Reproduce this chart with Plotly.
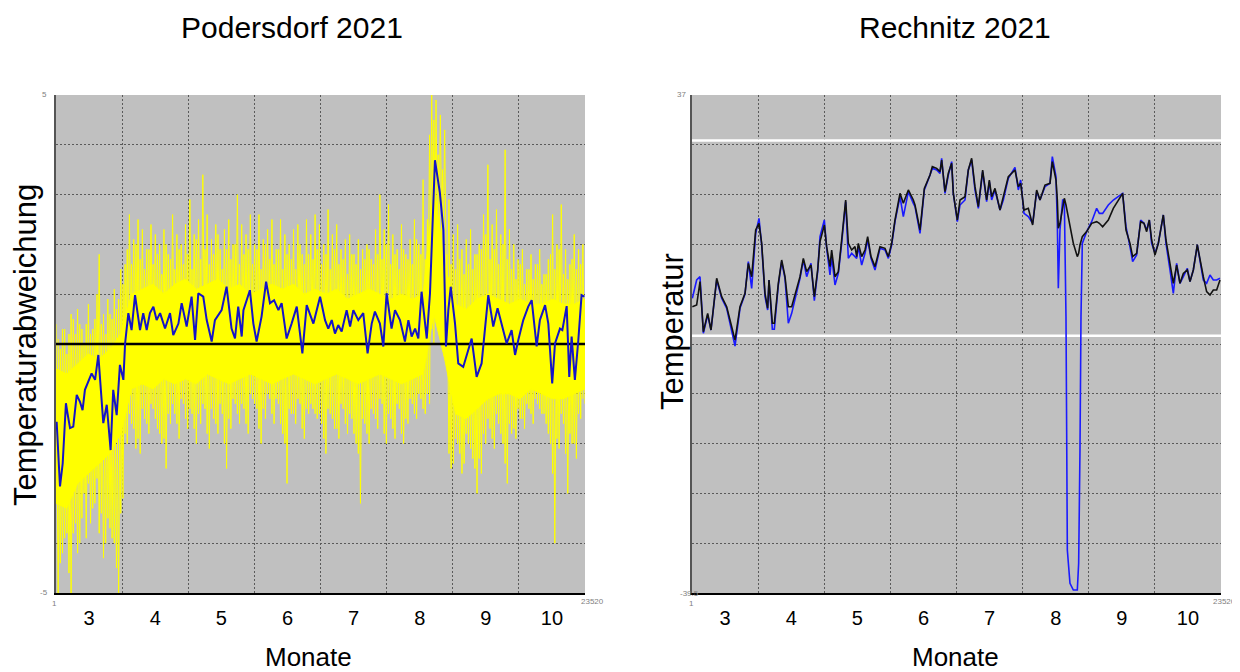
import plotly.graph_objects as go

# ---------------- data ----------------
N_SAMPLES = 23520
SAMPLES_PER_DAY = 96
month_labels = ["3", "4", "5", "6", "7", "8", "9", "10"]

titles = ["Podersdorf 2021", "Rechnitz 2021"]
y_titles = ["Temperaturabweichung", "Temperatur"]
x_title = "Monate"

# Podersdorf: tallest raw deviation spikes (even days 0, 2, ... 244)
pod_raw_hi = [0.4, -0.1, 0.3, 0.2, 0.5, 0.7, 0.3, 0.4, 0.2, 0.5, 1.8, 0.6, 0.9, 0.5, 0.7, 1.5,
              1.6, 2.6, 2.1, 2.5, 2.3, 1.9, 2.4, 2.2, 2.0, 2.3, 1.8, 2.6, 2.2, 2.0, 2.4,
              2.9, 2.2, 2.5, 3.4, 2.6, 2.1, 2.4, 1.9, 2.3, 2.5, 2.0, 3.0, 2.4, 2.2, 2.6,
              2.0, 2.6, 2.1, 2.3, 2.5, 1.9, 2.5, 2.2, 2.0, 2.3, 2.4, 1.8, 2.5, 2.2, 2.6,
              2.4, 2.0, 2.7, 2.2, 2.4, 1.9, 2.1, 2.2, 1.8, 2.1, 1.9, 2.0, 1.7, 2.3, 3.0,
              2.3, 2.8, 2.2, 1.9, 2.4, 1.8, 2.1, 2.5, 2.0, 3.3, 2.5, 5.0, 4.9, 4.6, 4.3,
              2.9, 2.2, 2.4, 1.9, 2.1, 2.3, 1.8, 2.0, 2.6, 3.6, 2.4, 2.7, 2.2, 3.9, 2.3,
              2.0, 1.7, 1.9, 1.5, 1.8, 1.6, 1.9, 1.4, 1.7, 2.6, 2.0, 2.8, 1.9, 1.6, 2.2, 1.9, 2.0]
pod_raw_lo = [-5.0, -4.2, -3.8, -5.0, -3.6, -4.0, -3.0, -2.8, -3.3, -2.7, -3.4, -4.0, -3.7, -4.0, -5.0, -3.1,
              -2.0, -1.6, -2.1, -2.2, -1.5, -1.8, -1.3, -1.7, -2.0, -2.5, -1.6, -1.4, -1.9, -1.2, -1.7,
              -1.4, -2.0, -1.6, -1.3, -2.1, -1.5, -1.8, -1.4, -2.5, -1.7, -1.2, -1.6, -1.3, -1.8, -1.1,
              -1.3, -2.0, -1.5, -1.1, -1.6, -1.2, -1.8, -2.8, -1.4, -1.6, -1.2, -1.9, -1.4, -1.3, -1.5,
              -1.6, -2.2, -1.4, -1.7, -1.9, -1.3, -1.8, -1.5, -2.0, -3.2, -1.6, -2.0, -1.4, -1.7, -1.2,
              -2.0, -1.5, -1.9, -1.3, -2.0, -1.6, -1.2, -1.5, -1.1, -1.4, -1.2, 0.0, 0.6, 0.8, 0.3,
              -2.5, -1.9, -2.2, -2.4, -2.0, -2.3, -3.0, -2.6, -2.0, -1.7, -2.1, -1.6, -2.0, -2.8, -1.8,
              -1.9, -1.5, -1.7, -1.3, -1.6, -1.2, -1.4, -1.6, -2.0, -4.0, -2.1, -1.6, -3.0, -2.0, -2.3, -1.5, -1.2]

# Podersdorf: medium raw deviation spikes (odd days 1, 3, ... 243)
pod_mid_hi = [0.1, 0.3, -0.2, 0.6, 0.2, 0.4, 0.0, 0.8, 0.3, 1.0, 0.4, 0.2, 0.6, 1.1, 0.9,
              1.2, 1.9, 1.6, 2.0, 1.7, 1.5, 1.9, 1.6, 1.8, 1.4, 2.0, 1.7, 1.5, 1.9, 1.6,
              1.8, 1.5, 2.1, 1.7, 1.9, 1.6, 1.8, 2.2, 1.5, 1.9, 1.7, 2.0, 1.6, 1.8, 1.9,
              1.6, 1.9, 1.5, 2.0, 1.7, 1.6, 1.9, 1.5, 1.8, 1.7, 1.5, 2.0, 1.6, 1.8, 1.7,
              1.9, 1.6, 1.8, 1.5, 1.9, 1.6, 1.7, 1.4, 1.8, 1.6, 1.5, 1.7, 1.9, 1.6, 1.8,
              1.7, 2.0, 1.6, 1.8, 1.5, 1.9, 1.7, 1.6, 2.1, 1.8, 1.7, 4.2, 4.5, 3.8, 3.5,
              1.8, 1.6, 1.5, 1.7, 1.4, 1.6, 1.5, 1.8, 1.9, 2.2, 1.7, 1.9, 1.6, 2.0, 1.7,
              1.5, 1.3, 1.6, 1.2, 1.5, 1.3, 1.6, 1.2, 1.4, 1.8, 1.5, 1.9, 1.4, 1.3, 1.7, 1.5, 1.6]
pod_mid_lo = [-4.4, -3.9, -4.6, -3.8, -4.2, -3.5, -3.9, -3.6, -3.2, -3.8, -4.3, -3.5, -3.9, -4.5, -3.4,
              -1.8, -1.4, -1.7, -1.9, -1.3, -1.6, -1.2, -1.5, -1.8, -1.9, -1.4, -1.2, -1.6, -1.1, -1.5,
              -1.3, -1.7, -1.4, -1.2, -1.8, -1.3, -1.6, -1.2, -2.0, -1.5, -1.1, -1.4, -1.2, -1.6, -1.0,
              -1.2, -1.7, -1.3, -1.0, -1.4, -1.1, -1.6, -2.0, -1.3, -1.4, -1.1, -1.7, -1.3, -1.2, -1.4,
              -1.4, -1.9, -1.3, -1.5, -1.7, -1.2, -1.6, -1.4, -1.8, -2.2, -1.5, -1.8, -1.3, -1.5, -1.1,
              -1.8, -1.4, -1.7, -1.2, -1.8, -1.5, -1.1, -1.4, -1.0, -1.3, -1.0, 0.3, 0.8, 1.0, 0.5,
              -2.2, -2.4, -2.0, -2.6, -1.8, -2.1, -2.5, -2.3, -1.8, -1.5, -1.9, -1.4, -1.8, -2.4, -1.6,
              -1.7, -1.3, -1.5, -1.2, -1.4, -1.1, -1.3, -1.4, -1.8, -2.6, -1.9, -1.4, -2.2, -1.8, -2.0, -1.4, -1.1]

# Podersdorf: dense core of the raw deviation (every 5 days starting at day 0)
pod_core_hi = [-0.5, -0.6, -0.4, -0.2, -0.3, -0.1, 0.2, 1.0, 1.1, 1.2, 1.0, 1.2, 1.3, 1.1, 1.2, 1.3,
               1.1, 1.2, 1.0, 1.1, 1.2, 1.1, 1.2, 1.0, 1.1, 1.0, 1.1, 0.9, 1.0, 1.1, 1.0, 0.9,
               1.0, 0.9, 1.0, 3.2, 1.6, 0.8, 0.7, 0.9, 1.0, 0.9, 0.8, 0.9, 0.8, 0.8, 0.9, 0.8,
               0.8, 0.9]
pod_core_lo = [-3.2, -3.3, -2.8, -2.6, -2.4, -2.2, -1.8, -0.9, -0.8, -0.9, -0.7, -0.8, -0.7, -0.8,
               -0.6, -0.7, -0.8, -0.7, -0.6, -0.7, -0.8, -0.7, -0.6, -0.7, -0.8, -0.7, -0.6, -0.7,
               -0.8, -0.7, -0.6, -0.7, -0.8, -0.7, -0.6, 0.6, -0.3, -1.4, -1.5, -1.3, -1.1, -1.0,
               -1.0, -1.1, -0.9, -1.0, -1.1, -1.1, -1.0, -0.9]
pod_core_step_days = 5

# Podersdorf: smoothed deviation (blue)
pod_mean_days = [0.3, 1.85, 3.1, 4.6, 5.2, 6.5, 8.0, 9.6, 11.1, 12.3, 13.4, 16.5, 18.1, 19.6, 21.9, 23.5,
                 25.3, 26.5, 28.1, 29.6, 31.2, 32.0, 33.5, 35.0, 36.6, 38.9, 40.4, 42.0, 43.5, 45.1,
                 46.6, 48.2, 50.5, 52.8, 54.3, 56.7, 58.2, 60.5, 62.8, 64.4, 65.9, 68.2, 69.8, 72.1,
                 73.6, 76.7, 79.0, 81.3, 82.9, 84.4, 86.0, 86.8, 89.8, 91.4, 92.9, 95.2, 97.3, 99.1,
                 101.0, 103.0, 104.5, 106.8, 109.1, 111.5, 114.1, 116.1, 119.2,
                 122.3, 124.6, 126.1, 127.7, 129.2, 130.7, 132.3, 134.6, 136.2, 137.7, 140.0, 142.3,
                 144.3, 146.2, 147.7, 150.0, 151.6, 153.1, 155.4, 157.0, 159.3, 161.6, 163.2, 164.7,
                 166.3, 167.8, 169.3, 171.7, 173.2, 175.5, 177.8, 179.4, 180.6, 181.7, 182.8, 184.8,
                 186.3, 188.6, 191.0, 192.5, 194.8, 197.1, 200.2, 202.5, 204.5, 206.4, 208.7, 211.0,
                 212.6, 214.1, 216.4, 218.7, 220.3, 222.6, 224.1, 226.5, 228.0, 229.8, 231.1, 233.4,
                 234.5, 236.5, 237.7, 238.8, 240.3, 241.9, 243.4, 244.7]
pod_mean_vals = [-1.56, -2.86, -2.40, -1.19, -1.36, -1.69, -1.66, -1.02, -1.16, -1.33, -0.92, -0.59,
                 -0.72, -0.22, -1.59, -1.22, -2.13, -0.92, -1.43, -0.42, -0.72, 0.01, 0.62, 0.28,
                 0.98, 0.28, 0.62, 0.28, 0.62, 0.75, 0.48, 0.62, 0.31, 0.62, 0.18, 0.41, 0.82, 0.35,
                 0.95, 0.08, 1.02, 0.95, 0.48, 0.05, 0.48, 0.68, 1.15, 0.31, 0.11, 0.75, 0.15, 0.68,
                 1.08, 0.41, 0.05, 0.55, 1.25, 0.82, 0.88, 0.68, 0.82, 0.11, 0.41, 0.75, -0.19, 0.78,
                 0.41,
                 0.95, 0.48, 0.31, 0.48, 0.21, 0.38, 0.25, 0.68, 0.35, 0.68, 0.48, 0.62, -0.19, 0.41,
                 0.65, 0.41, -0.05, 1.02, 0.31, 0.68, 0.48, 0.05, 0.48, 0.15, 0.31, 0.11, 1.05, 0.11,
                 1.02, 3.69, 3.03, 2.29, -0.05, 0.68, 1.15, 0.41, -0.39, -0.46, -0.12, 0.11, -0.66,
                 -0.39, 0.98, 0.35, 0.72, 0.41, 0.01, 0.28, -0.22, 0.08, 0.48, 0.75, 0.88, -0.05,
                 0.48, 0.78, 0.41, -0.79, 0.01, 0.31, 0.28, 0.76, -0.66, 0.15, -0.72, 0.08, 0.98, 0.95]

# Rechnitz: two temperature series
rech_days = [0.16, 2.16, 3.71, 5.25, 7.26, 8.80, 11.43, 13.74, 16.06, 19.92,
             22.23, 24.55, 26.09, 27.63, 29.49, 31.03, 32.27, 33.81, 35.04, 35.66,
             37.20, 38.13, 39.98, 41.53, 43.07, 44.61, 46.16, 48.47, 50.02, 51.56,
             53.11, 55.11, 56.66, 58.20, 59.28, 61.29, 62.37, 63.91, 64.68, 66.23,
             67.77, 69.31, 71.17, 72.40, 73.95, 75.49, 76.26, 77.03, 78.58, 80.12,
             81.35, 82.90, 84.75, 87.06, 89.38, 90.93, 92.47, 94.01, 96.33, 97.87,
             100.19, 102.50, 103.28, 105.59, 107.60, 110.22, 111.30, 113.31, 114.85, 115.62,
             117.17, 118.71, 120.26,
             121.02, 122.88, 124.11, 126.43, 127.97, 129.51, 131.06, 132.60, 134.61, 136.46,
             137.70, 138.78, 140.32, 142.64, 144.18, 146.49, 149.58, 151.12, 152.21, 153.75,
             155.75, 157.76, 159.62, 161.16, 163.47, 165.79, 166.87, 168.57, 169.19, 169.65,
             170.42, 171.66, 172.43, 173.20, 173.51, 173.82, 175.05, 176.60, 178.45, 179.07,
             179.68, 180.15, 180.76, 182.77, 185.09, 187.40, 188.64, 190.18, 192.80, 195.12,
             199.44, 200.99, 202.84, 204.07, 205.93, 207.78, 209.32, 210.56, 211.79, 212.87,
             214.42, 215.96, 218.28, 219.51, 221.36, 222.91, 224.45, 225.99, 227.54, 229.39,
             230.63, 232.17, 234.02, 235.57, 236.80, 238.34, 239.89, 241.43, 242.98, 244.52]
rech_black = [4.48, 4.74, 8.33, 0.64, 3.46, 0.90, 8.84, 6.02, 4.48, -0.64,
              4.48, 6.53, 11.14, 9.09, 16.26, 17.29, 14.21, 6.53, 4.23, 8.58,
              1.93, 1.93, 8.07, 11.65, 9.09, 4.48, 4.48, 7.04, 9.09, 11.91,
              9.86, 10.88, 6.02, 10.12, 14.47, 17.03, 13.70, 10.63, 13.19, 9.09,
              9.86, 14.73, 20.87, 14.21, 13.19, 13.70, 12.17, 14.21, 12.17, 13.19,
              15.24, 12.17, 10.63, 13.70, 13.45, 12.17, 14.21, 17.80, 21.89, 20.36,
              22.41, 20.87, 20.10, 16.26, 22.66, 24.71, 25.99, 25.73, 25.22, 27.01,
              22.15, 24.97, 26.50,
              21.89, 17.80, 20.87, 21.38, 25.48, 27.27, 22.92, 19.85, 25.48, 20.87,
              23.94, 21.38, 22.66, 19.33, 21.38, 24.45, 25.48, 22.92, 23.43, 19.33,
              19.59, 17.03, 22.41, 20.87, 23.17, 23.43, 26.76, 23.94, 20.87, 16.52,
              17.29, 19.33, 21.13, 20.10, 19.59, 19.08, 17.29, 14.21, 12.17, 12.68,
              13.96, 14.73, 15.24, 16.01, 17.29, 17.54, 17.29, 16.77, 17.80, 19.59,
              21.89, 16.26, 14.21, 12.17, 12.68, 17.54, 17.29, 16.01, 17.80, 14.73,
              12.42, 14.21, 18.57, 14.73, 11.14, 8.07, 10.88, 8.07, 9.60, 10.12,
              8.33, 10.12, 13.96, 11.14, 9.09, 6.79, 6.28, 7.04, 7.04, 8.58]
rech_blue = [5.77, 8.58, 9.09, 0.39, 3.20, 0.90, 8.58, 5.77, 4.23, -1.56,
             4.23, 6.43, 11.40, 7.30, 15.75, 18.05, 13.96, 6.02, 3.97, 8.58,
             1.01, 1.01, 7.81, 11.40, 8.84, 1.93, 3.46, 6.53, 8.84, 11.65,
             9.09, 11.14, 5.41, 9.86, 15.24, 17.80, 13.45, 9.35, 12.17, 7.81,
             9.60, 14.21, 20.61, 11.91, 12.68, 12.17, 11.91, 13.70, 10.88, 12.68,
             14.73, 11.91, 10.12, 13.45, 13.19, 11.91, 13.96, 17.54, 21.38, 18.31,
             22.15, 20.36, 19.85, 15.75, 22.41, 24.71, 25.73, 25.48, 24.97, 27.27,
             21.89, 24.71, 26.76,
             21.89, 17.54, 20.10, 20.87, 25.48, 27.01, 22.41, 19.59, 25.22, 20.61,
             23.69, 20.87, 22.41, 19.33, 20.87, 24.20, 25.89, 22.41, 23.94, 18.82,
             18.31, 17.29, 22.15, 20.87, 22.92, 23.43, 27.53, 24.46, 17.29, 7.30,
             16.26, 20.87, 20.87, 2.95, -14.46, -32.89, -38.01, -39.04, -39.04, -34.94,
             -17.53, 2.95, 14.21, 16.01, 17.54, 19.59, 18.82, 18.82, 20.10, 20.87,
             21.89, 16.77, 13.70, 11.40, 12.42, 17.80, 17.29, 16.26, 17.80, 14.21,
             12.68, 14.21, 18.57, 14.21, 10.12, 6.53, 11.14, 8.07, 9.09, 10.37,
             8.33, 10.12, 13.96, 10.88, 8.58, 8.07, 9.35, 8.58, 8.58, 8.84]

pod_yrange = [-5, 5]
rech_yrange = [-39.5, 37]
rech_ref_levels = [0, 30]

# ---------------- helpers ----------------
PAGE_W, PAGE_H = 1240, 672
OFF = 8  # default page margin around the plot div
W, H = PAGE_W - OFF, PAGE_H - OFF
FONT = "Liberation Sans, Arial, sans-serif"
GRID = "#5a5a5a"
BG = "#c0c0c0"
YEL = "#ffff00"


def px(x):
    return (x - OFF) / W


def py(y):
    return 1 - (y - OFF) / H


def to_idx(d):
    return min(1 + d * SAMPLES_PER_DAY, N_SAMPLES)


n_cols = len(month_labels)
col_w = (N_SAMPLES - 1) / n_cols
x_grid = [1 + k * col_w for k in range(n_cols + 1)]
x_centers = [1 + (k + 0.5) * col_w for k in range(n_cols)]

fig = go.Figure()

# ----- left: Podersdorf -----
cd = [to_idx(i * pod_core_step_days) for i in range(len(pod_core_hi))]
fig.add_trace(go.Scatter(x=cd + cd[::-1], y=pod_core_hi + pod_core_lo[::-1], mode="lines",
                         fill="toself", fillcolor=YEL, line=dict(color=YEL, width=1),
                         xaxis="x", yaxis="y", hoverinfo="skip", showlegend=False))


def zigzag(his, los, first_day):
    xs, ys = [], []
    for i, (h, l) in enumerate(zip(his, los)):
        d = first_day + 2 * i
        xs += [to_idx(d), to_idx(d + 1)]
        ys += [h, l]
    return xs, ys


for his, los, d0 in [(pod_raw_hi, pod_raw_lo, 0), (pod_mid_hi, pod_mid_lo, 1)]:
    zx, zy = zigzag(his, los, d0)
    fig.add_trace(go.Scatter(x=zx, y=zy, mode="lines", line=dict(color=YEL, width=1),
                             xaxis="x", yaxis="y", hoverinfo="skip", showlegend=False))

fig.add_trace(go.Scatter(x=[1, N_SAMPLES], y=[0, 0], mode="lines",
                         line=dict(color="#000000", width=2.5),
                         xaxis="x", yaxis="y", hoverinfo="skip", showlegend=False))
fig.add_trace(go.Scatter(x=[to_idx(d) for d in pod_mean_days], y=pod_mean_vals, mode="lines",
                         line=dict(color="#1414c8", width=2),
                         xaxis="x", yaxis="y", showlegend=False))

# ----- right: Rechnitz -----
for lvl in rech_ref_levels:
    fig.add_trace(go.Scatter(x=[1, N_SAMPLES], y=[lvl, lvl], mode="lines",
                             line=dict(color="#ffffff", width=2.5),
                             xaxis="x2", yaxis="y2", hoverinfo="skip", showlegend=False))
rx = [to_idx(d) for d in rech_days]
fig.add_trace(go.Scatter(x=rx, y=rech_blue, mode="lines", line=dict(color="#1a1aff", width=1.6),
                         xaxis="x2", yaxis="y2", showlegend=False))
fig.add_trace(go.Scatter(x=rx, y=rech_black, mode="lines", line=dict(color="#111111", width=1.6),
                         xaxis="x2", yaxis="y2", showlegend=False))


def xaxis_cfg(dom, anchor):
    return dict(domain=dom, anchor=anchor, range=[1, N_SAMPLES],
                tickmode="array", tickvals=x_centers, ticktext=month_labels,
                ticks="", showgrid=False, zeroline=False,
                tickfont=dict(family=FONT, size=20, color="#000000"),
                ticklabelstandoff=6,
                showline=True, linecolor="#000000", linewidth=2,
                minor=dict(tickvals=x_grid, showgrid=True, gridcolor=GRID, gridwidth=1,
                           griddash="2px,2px", ticks=""),
                fixedrange=True)


def yaxis_cfg(dom, anchor, rng, gridvals):
    return dict(domain=dom, anchor=anchor, range=rng, showticklabels=False, ticks="",
                tickmode="array", tickvals=[rng[0]], showgrid=False, zeroline=False,
                showline=True, linecolor="#555555", linewidth=2,
                minor=dict(tickvals=gridvals, showgrid=True, gridcolor=GRID, gridwidth=1,
                           griddash="2px,2px", ticks=""),
                fixedrange=True)


dom_y = [py(593), py(95)]
pod_grid = list(range(pod_yrange[0], pod_yrange[1] + 1))
rech_step = (rech_yrange[1] - rech_yrange[0]) / 10
rech_grid = [round(rech_yrange[0] + k * rech_step, 4) for k in range(11)]

ann = []


def text(x, y, s, size, color="#000000", angle=0, xanchor="center", yanchor="middle"):
    ann.append(dict(x=px(x), y=py(y), xref="paper", yref="paper", text=s, showarrow=False,
                    font=dict(family=FONT, size=size, color=color), textangle=angle,
                    xanchor=xanchor, yanchor=yanchor))


text(292, 27, titles[0], 30)
text(955, 27, titles[1], 30)
text(308, 657, x_title, 26)
text(955, 657, x_title, 26)
text(25, 345, y_titles[0], 31, angle=-90)
text(672, 332, y_titles[1], 31, angle=-90)

SMALL = "#808080"
text(49, 95, str(pod_yrange[1]), 8, SMALL, xanchor="right")
text(50, 592, str(pod_yrange[0]), 8, SMALL, xanchor="right")
text(54, 603, "1", 8, SMALL)
text(592, 601, str(N_SAMPLES), 8, SMALL)
text(688, 95, str(rech_yrange[1]), 8, SMALL, xanchor="right")
text(689, 593, str(rech_yrange[0]), 8, SMALL)
text(691, 603, "1", 8, SMALL)
text(1238, 601, str(N_SAMPLES), 8, SMALL, xanchor="right")

fig.update_layout(
    width=W, height=H,
    margin=dict(l=0, r=0, t=0, b=0),
    paper_bgcolor="#ffffff",
    plot_bgcolor=BG,
    showlegend=False,
    xaxis=xaxis_cfg([px(56), px(585)], "y"),
    yaxis=yaxis_cfg(dom_y, "x", pod_yrange, pod_grid),
    xaxis2=xaxis_cfg([px(692), px(1221)], "y2"),
    yaxis2=yaxis_cfg(dom_y, "x2", rech_yrange, rech_grid),
    annotations=ann,
    font=dict(family=FONT),
)

fig.write_html("out.html")
